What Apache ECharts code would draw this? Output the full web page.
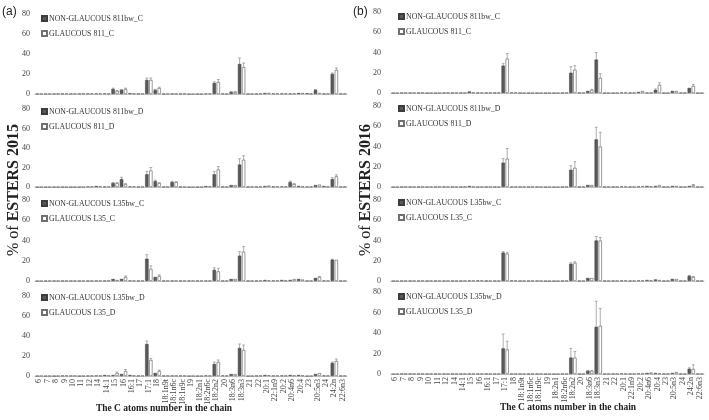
<!DOCTYPE html>
<html><head><meta charset="utf-8">
<script src="https://cdn.jsdelivr.net/npm/echarts@6/dist/echarts.min.js"></script>
<style>html,body{margin:0;padding:0;background:#fff}#c{width:709px;height:420px}</style>
</head><body><div id="c"></div>
<script>
const categories = ['6','7','8','9','10','11','12','14','14:1','15','16','16:1','17','17:1','18','18:1n9t','18:1n6c','18:1n9c','19','18:2n1','18:2n6c','18:2n2','20','18:3n6','18:3n3','21','22','20:1','22:1n9','20:2','20:4n6','20:4','23','20:5n3','24','24:2n','22:6n3'];
const yTicks = [0, 20, 40, 60, 80];

// Panel (a) 2015
const a1NG = [0.2,0.2,0.3,0.3,0.3,0.3,0.4,0.5,0.5,5,4,0.8,0.3,14,4,0.3,0.3,0.3,0,0,0.5,11,0.3,2,30,0.2,0.3,1,0.5,0.5,0.5,1,0.8,4,0.3,20,0.3];
const a1G  = [0.2,0.2,0.3,0.3,0.3,0.3,0.4,0.5,0.4,3,5,0.5,0.3,14,6,0.3,0.3,0.3,0,0,0.5,12,0.3,2,27,0.2,0.3,1.2,0.5,0.5,0.5,1,0.5,1,0.3,24,0.3];
const a1NGe= [0,0,0,0,0,0,0,0,0,0.8,0.5,0,0,2,0.6,0,0,0,0,0,0,1.2,0,0.4,6,0,0,0,0,0,0,0,0,0.5,0,1,0];
const a1Ge = [0,0,0,0,0,0,0,0,0,0.5,0.8,0,0,2,0.8,0,0,0,0,0,0,2.5,0,0.5,4,0,0,0,0,0,0,0,0,0,0,2,0];

const a2NG = [0,0,0,0,0,0,0.5,1,0.3,4,8,0.5,0.3,13,6,0.3,5,0.2,0,0,1,13,0.3,2,23,0.2,0.3,1,0.5,0.5,5,1,0.3,2,1,8,0.3];
const a2G  = [0,0,0,0,0,0,0.3,0.6,0.3,4,3,0.4,0.3,17,4,0.3,5,0.2,0,0,0.5,18,0.3,2,28,0.2,0.3,1.5,0.5,0.5,3,0.5,0.3,2.5,0.5,11,0.3];
const a2NGe= [0,0,0,0,0,0,0,0,0,0.5,2,0,0,3,1,0,0.8,0,0,0,0,3,0,0,6,0,0,0,0,0,1,0,0,0,0,1.5,0];
const a2Ge = [0,0,0,0,0,0,0,0,0,0.5,0.5,0,0,3,0.5,0,0.5,0,0,0,0,3,0,0,4,0,0,0,0,0,0.5,0,0,0,0,1.5,0];

const a3NG = [0,0.2,0.2,0.2,0.2,0.2,0.2,0.3,0.3,2,2,0.5,0.3,22,4,0.3,0.3,0.3,0.3,0.3,0.3,11,0.3,2,25,0.2,0.3,1,0.5,1,1,2,0.3,3,0.5,21,0.3];
const a3G  = [0,0.2,0.2,0.2,0.2,0.2,0.2,0.3,0.3,1,4,0.3,0.3,12,5,0.3,0.3,0.3,0.3,0.3,0.3,9.5,0.3,2,29,0.2,0.3,0.5,0.5,0.5,2,1.5,0.3,4,0.3,21,0.3];
const a3NGe= [0,0,0,0,0,0,0,0,0,0,0,0,0,4,0,0,0,0,0,0,0,2,0,0,4,0,0,0,0,0,0,0,0,0,0,0.5,0];
const a3Ge = [0,0,0,0,0,0,0,0,0,0,1,0,0,3,1,0,0,0,0,0,0,3,0,0,5,0,0,0,0,0,0,0,0,0.5,0,0,0];

const a4NG = [0,0,0,0.3,0.3,0,0.2,0.5,1,1,2,1,0.3,32,3,0.3,0.3,0.3,0,0,0.5,12,0.5,2,28,0,0.3,1,0.3,0.5,1,1,0,2,0.5,13,0.3];
const a4G  = [0,0,0,0.3,0.3,0,0.2,0.4,0.5,3,5,0.5,0.3,16,5,0.3,0.3,0.3,0,0,0.3,14,0.3,2,26,0,0.3,0.8,0.3,0.3,0.5,0.5,0,3,0.3,15,0.3];
const a4NGe= [0,0,0,0,0,0,0,0,0,0,0,0,0,3,0,0,0,0,0,0,0,2,0,0,4,0,0,0,0,0,0,0,0,0,0,1,0];
const a4Ge = [0,0,0,0,0,0,0,0,0,1,1.5,0,0,1.5,1,0,0,0,0,0,0,2,0,0,5,0,0,0,0,0,0,0,0,0,0,2,0];

// Panel (b) 2016
const b1NG = [0,0.2,0.2,0.2,0,0,0.2,0.2,0.2,1.5,0.3,0.3,0.3,27,0.5,0,0,0,0,0,0.2,20,0.3,2,33,0,0,0.5,0.3,1,0.3,3,0,2,0.3,5,0];
const b1G  = [0,0.2,0.2,0.2,0,0,0.2,0.2,0.2,0.5,0.3,0.3,0.3,34,0.5,0,0,0,0,0,0.2,23,0.3,3,15,0,0,0.5,0.3,2,0.3,8,0,2,0.3,7,0];
const b1NGe= [0,0,0,0,0,0,0,0,0,0,0,0,0,2,0,0,0,0,0,0,0,6,0,0,7,0,0,0,0,0,0,1,0,0,0,0,0];
const b1Ge = [0,0,0,0,0,0,0,0,0,0,0,0,0,5,0,0,0,0,0,0,0,4,0,0.5,4,0,0,0,0,0,0,2,0,0,0,1.5,0];

const b2NG = [0,0.2,0.2,0.2,0.2,0.2,0.2,0.2,0.2,1,0.2,0.2,0.2,24,0.2,0.2,0.2,0.2,0,0,0.2,17,0.2,2,47,0.2,0.2,0.5,0.2,0.5,1,1,0.2,1,0.2,1,0.2];
const b2G  = [0,0.2,0.2,0.2,0.2,0.2,0.2,0.2,0.2,0.3,0.2,0.2,0.2,28,0.2,0.2,0.2,0.2,0,0,0.2,19,0.2,2,40,0.2,0.2,0.5,0.2,1,0.5,2,0.2,1,0.2,2,0.2];
const b2NGe= [0,0,0,0,0,0,0,0,0,0,0,0,0,4,0,0,0,0,0,0,0,4,0,0,12,0,0,0,0,0,0,0,0,0,0,0,0];
const b2Ge = [0,0,0,0,0,0,0,0,0,0,0,0,0,10,0,0,0,0,0,0,0,6,0,0,14,0,0,0,0,0,0,0,0,0,0,0.5,0];

const b3NG = [0,0.2,0.2,0.2,0.2,0.2,0.2,0.2,0.2,0.5,0.5,0.2,0.2,28,0.5,0.2,0.2,0.2,0,0,0.2,17,0.2,3,40,0.2,0.2,0.5,0.2,0.5,1,1.5,0.2,2,0.2,5,0.2];
const b3G  = [0,0.2,0.2,0.2,0.2,0.2,0.2,0.2,0.2,0.3,0.5,0.2,0.2,27,0.5,0.2,0.2,0.2,0,0,0.2,18,0.2,3,40,0.2,0.2,0.5,0.2,0.5,0.5,1,0.2,2,0.2,4,0.2];
const b3NGe= [0,0,0,0,0,0,0,0,0,0,0,0,0,1,0,0,0,0,0,0,0,1,0,0,4,0,0,0,0,0,0,0,0,0,0,0.5,0];
const b3Ge = [0,0,0,0,0,0,0,0,0,0,0,0,0,1,0,0,0,0,0,0,0,1,0,0,3,0,0,0,0,0,0,0,0,0,0,0.5,0];

const b4NG = [0,0.2,0.2,0.2,0.2,0.2,0.2,0.2,0.2,0.2,0.2,0.2,0.2,25,0.2,0.2,0.2,0.2,0,0,0.2,16,0.2,3,46,0.2,0.2,0.5,0.2,0.5,1,1,0.2,1,0.2,5,0.2];
const b4G  = [0,0.2,0.2,0.2,0.2,0.2,0.2,0.2,0.2,0.2,0.2,0.2,0.2,24,0.2,0.2,0.2,0.2,0,0,0.2,16,0.2,3,47,0.2,0.2,0.3,0.2,0.3,1.5,0.5,0.2,2,0.2,5,0.2];
const b4NGe= [0,0,0,0,0,0,0,0,0,0,0,0,0,14,0,0,0,0,0,0,0,9,0,0.5,25,0,0,0,0,0,0,0,0,0,0,1,0];
const b4Ge = [0,0,0,0,0,0,0,0,0,0,0,0,0,8,0,0,0,0,0,0,0,6,0,0.5,17,0,0,0,0,0,0,0,0,0,0,4,0];

const ngNames = ['NON-GLAUCOUS 811bw_C','NON-GLAUCOUS 811bw_D','NON-GLAUCOUS L35bw_C','NON-GLAUCOUS L35bw_D'];
const gNames  = ['GLAUCOUS 811_C','GLAUCOUS 811_D','GLAUCOUS L35_C','GLAUCOUS L35_D'];

const panelData = {
  a: [[a1NG,a1NGe,a1G,a1Ge],[a2NG,a2NGe,a2G,a2Ge],[a3NG,a3NGe,a3G,a3Ge],[a4NG,a4NGe,a4G,a4Ge]],
  b: [[b1NG,b1NGe,b1G,b1Ge],[b2NG,b2NGe,b2G,b2Ge],[b3NG,b3NGe,b3G,b3Ge],[b4NG,b4NGe,b4G,b4Ge]]
};

const panels = [
  {key:'a', left:35, width:312, rows:[[14,80],[109,78],[200,81],[296,80]], labelMargin:5, legendLeft:41, legendTop:[12,105,197,291]},
  {key:'b', left:391, width:313, rows:[[12,81],[106,81],[200,81],[292,82]], labelMargin:10, legendLeft:398, legendTop:[10,102,196,290]}
];

const SERIF = 'Liberation Serif';
const BW = 3.4, GAP = 0.6;
const OFF = (BW + GAP) / 2;

function errItem(params, api) {
  const i = api.value(0);
  const base = api.coord([i, 0]);
  const children = [];
  [[1,2,-OFF],[3,4,OFF]].forEach(function (d) {
    const v = api.value(d[0]), e = api.value(d[1]);
    if (!(e > 0)) return;
    const x = base[0] + d[2];
    const yTop = api.coord([i, v + e])[1];
    const yBot = api.coord([i, Math.max(0, v - e)])[1];
    children.push({type:'line', shape:{x1:x,y1:yBot,x2:x,y2:yTop}, style:{stroke:'#8c8c8c', lineWidth:0.7}});
    children.push({type:'line', shape:{x1:x-1.4,y1:yTop,x2:x+1.4,y2:yTop}, style:{stroke:'#8c8c8c', lineWidth:0.7}});
  });
  return {type:'group', children: children};
}

const grid = [], xAxis = [], yAxis = [], series = [], legend = [];
let gi = 0;
panels.forEach(function (p) {
  p.rows.forEach(function (r, k) {
    const [ng, nge, g, ge] = panelData[p.key][k];
    grid.push({left:p.left, width:p.width, top:r[0], height:r[1]});
    const bottom = (k === 3);
    xAxis.push({
      type:'category', gridIndex:gi, data:categories,
      axisLine:{show:true, lineStyle:{color:'#c4c4c4', width:1}},
      axisTick:{show:false},
      axisLabel:{show:bottom, interval:0, rotate:90, fontFamily:SERIF, fontSize:8, color:'#444', margin:3}
    });
    yAxis.push({
      type:'value', gridIndex:gi, min:yTicks[0], max:yTicks[yTicks.length-1], interval:20,
      axisLine:{show:false}, axisTick:{show:false}, splitLine:{show:false},
      axisLabel:{fontFamily:SERIF, fontSize:8, color:'#444', margin:p.labelMargin}
    });
    series.push({
      type:'bar', name:ngNames[k], xAxisIndex:gi, yAxisIndex:gi, data:ng,
      barWidth:BW, barGap:(GAP/BW*100)+'%',
      itemStyle:{color:'#5a5a5a', borderColor:'#3c3c3c', borderWidth:0.5},
      silent:true
    });
    series.push({
      type:'bar', name:gNames[k], xAxisIndex:gi, yAxisIndex:gi, data:g,
      barWidth:BW, barGap:(GAP/BW*100)+'%',
      itemStyle:{color:'#ffffff', borderColor:'#707070', borderWidth:0.7},
      silent:true
    });
    series.push({
      type:'custom', xAxisIndex:gi, yAxisIndex:gi, renderItem:errItem, silent:true,
      encode:{x:0, y:1}, clip:false,
      data: categories.map(function (c, i) { return [i, ng[i], nge[i], g[i], ge[i]]; })
    });
    legend.push({
      left:p.legendLeft, top:p.legendTop[k] + 1, orient:'vertical', icon:'rect', padding:0,
      itemWidth:5, itemHeight:5, itemGap:4,
      textStyle:{fontFamily:SERIF, fontSize:7.8, color:'#333', lineHeight:11, padding:[0,0,0,-3]},
      data:[ngNames[k], gNames[k]], selectedMode:false
    });
    gi++;
  });
});

const chart = echarts.init(document.getElementById('c'), null, {renderer:'canvas'});
chart.setOption({
  animation:false,
  backgroundColor:'#fff',
  grid: grid, xAxis: xAxis, yAxis: yAxis, series: series, legend: legend,
  graphic: [
    {type:'text', left:2, top:6, style:{text:'(a)', font:'12px "Liberation Sans"', fill:'#222'}},
    {type:'text', left:353, top:6, style:{text:'(b)', font:'12px "Liberation Sans"', fill:'#222'}},
    {type:'text', x:14, y:190, rotation:Math.PI/2, style:{
      text:'{r|% of }{b|ESTERS 2015}', align:'center', verticalAlign:'middle',
      rich:{r:{fontFamily:SERIF, fontSize:16, fill:'#222'}, b:{fontFamily:SERIF, fontSize:16, fontWeight:'bold', fill:'#222'}}}},
    {type:'text', x:366, y:190, rotation:Math.PI/2, style:{
      text:'{r|% of }{b|ESTERS 2016}', align:'center', verticalAlign:'middle',
      rich:{r:{fontFamily:SERIF, fontSize:16, fill:'#222'}, b:{fontFamily:SERIF, fontSize:16, fontWeight:'bold', fill:'#222'}}}},
    {type:'text', x:164, y:409, style:{text:'The C atoms number in the chain', align:'center', verticalAlign:'middle',
      font:'bold 9.5px "Liberation Serif"', fill:'#222'}},
    {type:'text', x:568, y:408, style:{text:'The C atoms number in the chain', align:'center', verticalAlign:'middle',
      font:'bold 9.5px "Liberation Serif"', fill:'#222'}}
  ]
});
</script>
</body></html>
